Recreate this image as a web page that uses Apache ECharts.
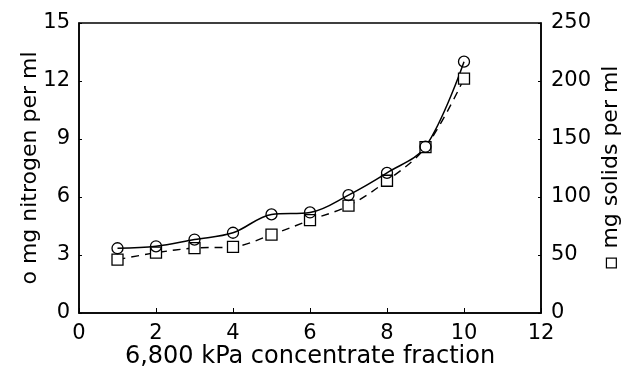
<!DOCTYPE html>
<html>
<head>
<meta charset="utf-8">
<script src="https://cdn.jsdelivr.net/npm/echarts@6/dist/echarts.min.js"></script>
<style>
  html, body { margin: 0; padding: 0; background: #fff; }
  #main { width: 622px; height: 368px; }
</style>
</head>
<body>
<div id="main"></div>
<script>
// data
var fractions = [1, 2, 3, 4, 5, 6, 7, 8, 9, 10];
var nitrogen = [3.35, 3.45, 3.8, 4.15, 5.1, 5.2, 6.1, 7.25, 8.6, 13.0];
var solids = [46, 52, 56, 57, 67.5, 80, 92.5, 114, 143, 202];
var xTicks = [0, 2, 4, 6, 8, 10, 12];

var font = 'DejaVu Sans';
var chartDom = document.getElementById('main');
var myChart = echarts.init(chartDom);

function pairs(ys) {
    return fractions.map(function (x, i) { return [x, ys[i]]; });
}

var option = {
    animation: false,
    backgroundColor: '#fff',
    grid: {
        left: 79,
        right: 81,
        top: 23,
        bottom: 55,
        outerBoundsMode: 'none',
        show: true,
        borderColor: '#000',
        borderWidth: 1.5
    },
    xAxis: {
        type: 'value',
        min: xTicks[0],
        max: xTicks[xTicks.length - 1],
        interval: 2,
        name: '6,800 kPa concentrate fraction',
        nameLocation: 'middle',
        nameGap: 32,
        nameMoveOverlap: false,
        nameTextStyle: { fontFamily: font, fontSize: 24, color: '#000' },
        splitLine: { show: false },
        axisLine: { lineStyle: { color: '#000', width: 1.5 } },
        axisTick: { inside: true, length: 5, lineStyle: { color: '#000' } },
        axisLabel: { fontFamily: font, fontSize: 21, color: '#000', margin: 10 }
    },
    yAxis: [
        {
            type: 'value',
            min: 0,
            max: 15,
            interval: 3,
            name: 'o mg nitrogen per ml',
            nameLocation: 'middle',
            nameGap: 38,
            nameMoveOverlap: false,
            nameTextStyle: { fontFamily: font, fontSize: 22, color: '#000' },
            splitLine: { show: false },
            axisLine: { show: true, lineStyle: { color: '#000', width: 1.5 } },
            axisTick: { show: true, inside: true, length: 3, lineStyle: { color: '#000' } },
            axisLabel: { fontFamily: font, fontSize: 21, color: '#000', margin: 9 }
        },
        {
            type: 'value',
            min: 0,
            max: 250,
            interval: 50,
            name: '\u25AB mg solids per ml',
            nameLocation: 'middle',
            nameGap: 59,
            nameRotate: 90,
            nameMoveOverlap: false,
            nameTextStyle: { fontFamily: font, fontSize: 22, color: '#000' },
            splitLine: { show: false },
            axisLine: { show: true, lineStyle: { color: '#000', width: 1.5 } },
            axisTick: { show: true, inside: true, length: 3, lineStyle: { color: '#000' } },
            axisLabel: { fontFamily: font, fontSize: 21, color: '#000', margin: 10 }
        }
    ],
    series: [
        {
            name: 'solids',
            type: 'line',
            yAxisIndex: 1,
            smooth: 0.35,
            data: pairs(solids),
            symbol: 'rect',
            symbolSize: 11,
            lineStyle: { color: '#000', width: 1.4, type: [8, 6] },
            itemStyle: { color: '#fff', borderColor: '#000', borderWidth: 1.3 }
        },
        {
            name: 'nitrogen',
            type: 'line',
            yAxisIndex: 0,
            smooth: 0.35,
            data: pairs(nitrogen),
            symbol: 'circle',
            symbolSize: 11,
            lineStyle: { color: '#000', width: 1.5 },
            itemStyle: { color: 'rgba(255,255,255,0)', borderColor: '#000', borderWidth: 1.3 }
        }
    ]
};

option && myChart.setOption(option);
</script>
</body>
</html>
